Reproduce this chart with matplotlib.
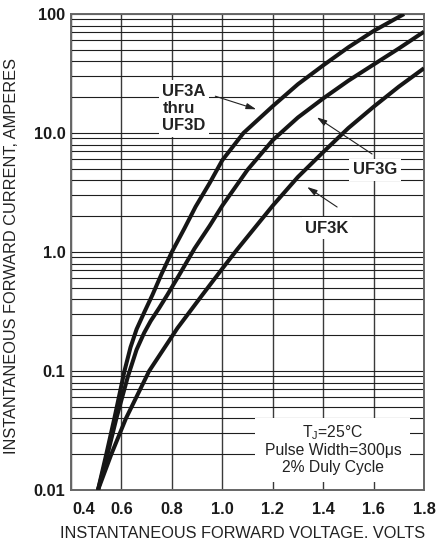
import numpy as np
import matplotlib.pyplot as plt
import matplotlib.transforms as mtrans
from matplotlib.patches import Rectangle
from matplotlib.ticker import FixedLocator, NullFormatter

plt.rcParams['font.family'] = ['Liberation Sans', 'DejaVu Sans']
plt.rcParams['mathtext.fontset'] = 'custom'
plt.rcParams['mathtext.rm'] = 'Liberation Sans'

# forward characteristics (volts, amperes)
uf3a_v = [0.507, 0.540, 0.572, 0.612, 0.636, 0.660, 0.692, 0.723, 0.76, 0.80, 0.85, 0.894,
          0.95, 1.0, 1.084, 1.2, 1.3, 1.4, 1.5, 1.6, 1.721]
uf3a_i = [0.01, 0.02, 0.04, 0.1, 0.158, 0.224, 0.316, 0.436, 0.66, 1.0, 1.58, 2.4,
          3.8, 5.9, 10, 16.8, 25.7, 37, 52.5, 72, 100]

uf3g_v = [0.507, 0.545, 0.58, 0.625, 0.660, 0.690, 0.716, 0.75, 0.782, 0.83, 0.89, 0.95,
          1.0, 1.1, 1.2, 1.3, 1.4, 1.5, 1.6, 1.7, 1.8]
uf3g_i = [0.01, 0.02, 0.04, 0.089, 0.151, 0.209, 0.263, 0.339, 0.436, 0.646, 1.07, 1.66,
          2.45, 4.9, 8.7, 13.5, 19.5, 27.5, 37.6, 51.3, 71]

uf3k_v = [0.507, 0.56, 0.618, 0.71, 0.822, 0.921, 1.0, 1.059, 1.2, 1.3, 1.4, 1.5,
          1.6, 1.7, 1.8]
uf3k_i = [0.01, 0.02, 0.04, 0.1, 0.229, 0.436, 0.724, 1.05, 2.45, 4.27, 6.9, 11.0,
          16.6, 24.5, 35]

xticks = [0.4, 0.6, 0.8, 1.0, 1.2, 1.4, 1.6, 1.8]
xticklabels = ['0.4', '0.6', '0.8', '1.0', '1.2', '1.4', '1.6', '1.8']
yticks = [0.01, 0.1, 1, 10, 100]
yticklabels = ['0.01', '0.1', '1.0', '10.0', '100']
yminor = [m * 10.0**e for e in range(-2, 2) for m in range(2, 10)]

fig = plt.figure(figsize=(4.38, 5.43), dpi=100)
ax = fig.add_axes([71/438, 1-490/543, 353/438, 476/543])

ax.set_yscale('log')
ax.set_xlim(0.4, 1.8)
ax.set_ylim(0.01, 100)

ax.set_xticks(xticks)
ax.set_xticklabels(xticklabels, fontsize=11.8, fontweight='bold', color='#1a1a1a')
ax.set_yticks(yticks)
ax.set_yticklabels(yticklabels, fontsize=11.8, fontweight='bold', color='#1a1a1a')
ax.yaxis.set_minor_locator(FixedLocator(yminor))
ax.yaxis.set_minor_formatter(NullFormatter())
ax.tick_params(axis='both', which='both', length=0)
ax.tick_params(axis='x', pad=9)
ax.tick_params(axis='y', pad=4)
# the 0.4 label sits a bit to the right in the original
lab0 = ax.get_xticklabels()[0]
lab0.set_transform(lab0.get_transform() + mtrans.ScaledTranslation(13/100, 0, fig.dpi_scale_trans))

ax.grid(True, which='major', axis='x', color='#3a3a3a', lw=1.0)
ax.grid(True, which='both', axis='y', color='#1e1e1e', lw=0.8)
ax.set_axisbelow(True)
for s in ax.spines.values():
    s.set_color('#666666')
    s.set_linewidth(1.4)

for v, i in [(uf3a_v, uf3a_i), (uf3g_v, uf3g_i), (uf3k_v, uf3k_i)]:
    ax.plot(v, i, color='#161616', lw=2.9, solid_joinstyle='round', solid_capstyle='butt', zorder=3)

box = dict(facecolor='white', edgecolor='none', pad=2.5)
ax.text(0.259, 0.853, 'UF3A\nthru\nUF3D', transform=ax.transAxes, ha='left', va='top',
        fontsize=12, fontweight='bold', color='#222222', linespacing=1.18, bbox=box, zorder=4)
ax.text(0.8614, 0.6723, 'UF3G', transform=ax.transAxes, ha='center', va='center',
        fontsize=12, fontweight='bold', color='#222222', bbox=box, zorder=4)
ax.text(0.7256, 0.5504, 'UF3K', transform=ax.transAxes, ha='center', va='center',
        fontsize=12, fontweight='bold', color='#222222', bbox=box, zorder=4)

arrow = dict(arrowstyle='-|>,head_length=0.6,head_width=0.18', color='#222222', lw=0.8,
             shrinkA=0, shrinkB=0)
ax.annotate('', xy=(0.5247, 0.7998), xytext=(0.4088, 0.8273), xycoords='axes fraction',
            arrowprops=arrow, zorder=5)
ax.annotate('', xy=(0.6964, 0.7829), xytext=(0.8529, 0.7059), xycoords='axes fraction',
            arrowprops=arrow, zorder=5)
ax.annotate('', xy=(0.6690, 0.6366), xytext=(0.7539, 0.5945), xycoords='axes fraction',
            arrowprops=arrow, zorder=5)

ax.add_patch(Rectangle((0.5219, 0.0168), 0.4385, 0.1345, transform=ax.transAxes,
                       facecolor='white', edgecolor='none', zorder=2.5))
ax.text(0.7426, 0.0861, 'T$_\\mathregular{J}$=25\u00b0C\nPulse Width=300\u03bcs\n2% Duly Cycle',
        transform=ax.transAxes, ha='center', va='center', fontsize=11.3, color='#222222',
        linespacing=1.1, zorder=4)

fig.text(12/438, 1-256/543, 'INSTANTANEOUS FORWARD CURRENT, AMPERES', rotation=90,
         ha='center', va='center', fontsize=11.8, color='#222222')
fig.text(243/438, 1-533/543, 'INSTANTANEOUS FORWARD VOLTAGE. VOLTS',
         ha='center', va='center', fontsize=11.8, color='#222222')

fig.savefig('out.png', dpi=100)
